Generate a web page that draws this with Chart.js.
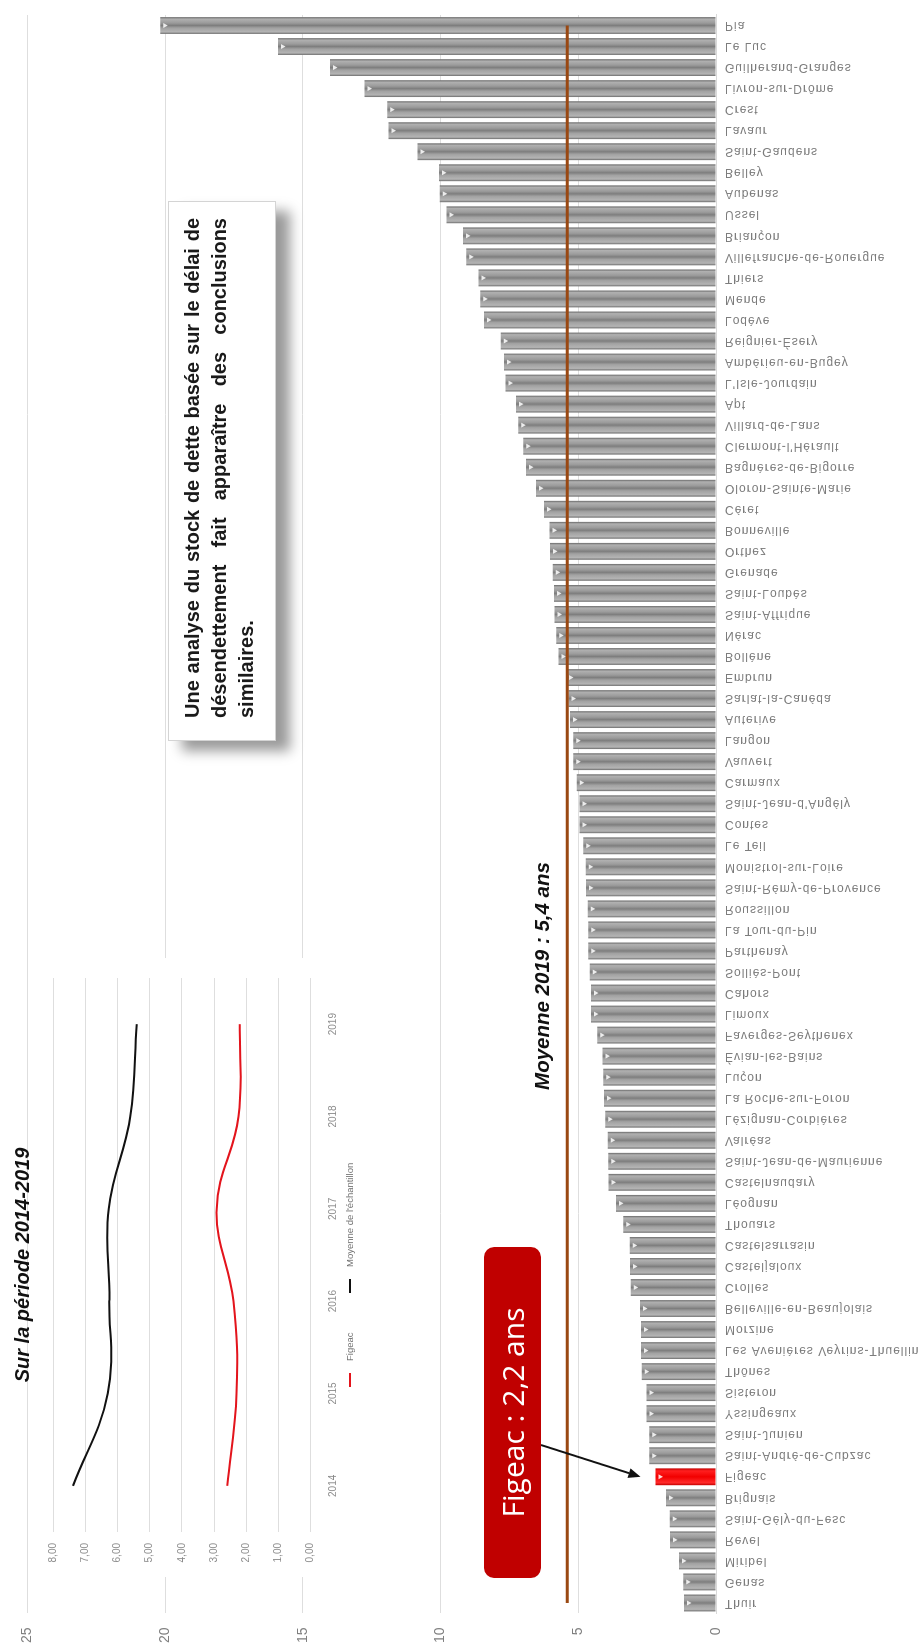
<!DOCTYPE html>
<html lang="fr">
<head>
<meta charset="utf-8">
<title>Délai de désendettement 2019</title>
<script src="https://cdn.jsdelivr.net/npm/chart.js@4.4.1/dist/chart.umd.min.js"></script>
<style>
  html, body { margin: 0; padding: 0; background: #fff; }
  body { width: 921px; height: 1651px; overflow: hidden; position: relative; }
  /* the slide is laid out in landscape and turned a quarter turn */
  #slide {
    position: absolute; left: 0; top: 0; width: 1651px; height: 921px;
    transform-origin: 0 0; transform: translateY(1651px) rotate(-90deg);
    font-family: 'Liberation Sans', Arial, sans-serif;
  }
  #mainChart { position: absolute; left: 0; top: 0; }
  #insetChart { position: absolute; left: 74px; top: 36px; }
  .titre, .moyenne {
    position: absolute; transform: translate(-50%, -50%);
    font: italic bold 20px 'Liberation Sans', Arial, sans-serif;
    white-space: nowrap; color: #111;
  }
  .titre { left: 386px; top: 22px; }
  .moyenne { left: 675px; top: 542px; font-size: 20.5px; }
  .callout {
    position: absolute; left: 73px; top: 484px; width: 331px; height: 57px;
    background: #c00000; border-radius: 10px; color: #fff;
    font: 30px 'Open Sans', 'Liberation Sans', Arial, sans-serif;
    display: flex; align-items: center; justify-content: center; white-space: nowrap;
  }
  .note {
    position: absolute; left: 910px; top: 168px; width: 540px; height: 108px;
    box-sizing: border-box; background: #fff; border: 1px solid #d4d4d4;
    box-shadow: -10px 14px 12px rgba(0,0,0,0.40);
    padding: 10px 16px 0 22px;
    font: bold 20px 'Liberation Sans', Arial, sans-serif; line-height: 27px; color: #1a1a1a;
  }
  .note .j { text-align: justify; text-align-last: justify; white-space: nowrap; }
  .note .l { text-align: left; }
</style>
</head>
<body>
<div id="slide">
  <canvas id="mainChart" width="1651" height="921"></canvas>
  <canvas id="insetChart" width="619" height="334"></canvas>
  <div class="titre">Sur la période 2014-2019</div>
  <div class="moyenne" id="moyenneLabel"></div>
  <div class="callout" id="figeacLabel"></div>
  <div class="note">
    <div class="j">Une analyse du stock de dette basée sur le délai de</div>
    <div class="j">désendettement fait apparaître des conclusions</div>
    <div class="l">similaires.</div>
  </div>
</div>
<script>
// Communes, in increasing order of debt-reduction delay (years), 2019
const categories = [
  'Thuir', 'Genas', 'Miribel', 'Revel', 'Saint-Gély-du-Fesc', 'Brignais', 'Figeac',
  'Saint-André-de-Cubzac', 'Saint-Junien', 'Yssingeaux', 'Sisteron', 'Thônes',
  'Les Avenières Veyrins-Thuellin', 'Morzine', 'Belleville-en-Beaujolais', 'Crolles',
  'Casteljaloux', 'Castelsarrasin', 'Thouars', 'Léognan', 'Castelnaudary',
  'Saint-Jean-de-Maurienne', 'Valréas', 'Lézignan-Corbières', 'La Roche-sur-Foron',
  'Luçon', 'Évian-les-Bains', 'Faverges-Seythenex', 'Limoux', 'Cahors', 'Solliès-Pont',
  'Parthenay', 'La Tour-du-Pin', 'Roussillon', 'Saint-Rémy-de-Provence',
  'Monistrol-sur-Loire', 'Le Teil', 'Contes', "Saint-Jean-d'Angély", 'Carmaux',
  'Vauvert', 'Langon', 'Auterive', 'Sarlat-la-Canéda', 'Embrun', 'Bollène', 'Nérac',
  'Saint-Affrique', 'Saint-Loubès', 'Grenade', 'Orthez', 'Bonneville', 'Céret',
  'Oloron-Sainte-Marie', 'Bagnères-de-Bigorre', "Clermont-l'Hérault", 'Villard-de-Lans',
  'Apt', "L'Isle-Jourdain", 'Ambérieu-en-Bugey', 'Reignier-Ésery', 'Lodève', 'Mende',
  'Thiers', 'Villefranche-de-Rouergue', 'Briançon', 'Ussel', 'Aubenas', 'Belley',
  'Saint-Gaudens', 'Lavaur', 'Crest', 'Livron-sur-Drôme', 'Guilherand-Granges',
  'Le Luc', 'Pia'
];
const delai2019 = [
  1.16, 1.19, 1.34, 1.67, 1.68, 1.82, 2.2,
  2.42, 2.42, 2.52, 2.52, 2.70,
  2.72, 2.72, 2.76, 3.10,
  3.12, 3.13, 3.37, 3.63, 3.90,
  3.91, 3.93, 4.02, 4.07,
  4.09, 4.12, 4.31, 4.54, 4.54, 4.58,
  4.64, 4.64, 4.66, 4.72,
  4.73, 4.82, 4.96, 4.96, 5.06,
  5.18, 5.18, 5.30, 5.36, 5.45, 5.72, 5.80,
  5.86, 5.88, 5.93, 6.03, 6.05, 6.25,
  6.54, 6.90, 7.00, 7.18,
  7.26, 7.64, 7.70, 7.82, 8.42, 8.56,
  8.62, 9.07, 9.19, 9.79, 10.03, 10.06,
  10.84, 11.89, 11.94, 12.76, 14.02,
  15.90, 20.18
];
const MOYENNE_2019 = 5.4;
const COMMUNE_MISE_EN_AVANT = 'Figeac';
const valueTicks = [0, 5, 10, 15, 20, 25];

// Evolution 2014-2019
const annees = ['2014', '2015', '2016', '2017', '2018', '2019'];
const serieFigeac = [2.59, 2.30, 2.40, 2.92, 2.24, 2.2];
const serieMoyenne = [7.38, 6.30, 6.25, 6.27, 5.60, 5.4];
const insetTicks = [0, 1, 2, 3, 4, 5, 6, 7, 8];

const frNum = (v, d) => v.toFixed(d).replace('.', ',');
const figeacIndex = categories.indexOf(COMMUNE_MISE_EN_AVANT);

document.getElementById('moyenneLabel').textContent = 'Moyenne 2019 : ' + frNum(MOYENNE_2019, 1) + ' ans';
document.getElementById('figeacLabel').textContent = COMMUNE_MISE_EN_AVANT + ' : ' + frNum(delai2019[figeacIndex], 1) + ' ans';

const FONT = "'Liberation Sans', Arial, sans-serif";
const BAR_PCT = 0.8;

// shaded "cylinder" fill across each bar
function barFill(ctx) {
  const chart = ctx.chart;
  const red = ctx.dataIndex === figeacIndex;
  if (ctx.type !== 'data' || !chart.chartArea) return red ? '#f00' : '#999';
  const xs = chart.scales.x;
  const cx = xs.getPixelForValue(ctx.dataIndex);
  const half = xs.width / categories.length * BAR_PCT / 2;
  const g = chart.ctx.createLinearGradient(cx - half, 0, cx + half, 0);
  if (red) {
    g.addColorStop(0, '#c40000');
    g.addColorStop(0.15, '#ff2a2a');
    g.addColorStop(0.5, '#f20000');
    g.addColorStop(0.85, '#ff1f1f');
    g.addColorStop(1, '#c00000');
  } else {
    g.addColorStop(0, '#6c6c6c');
    g.addColorStop(0.12, '#b4b4b4');
    g.addColorStop(0.35, '#a2a2a2');
    g.addColorStop(0.5, '#7e7e7e');
    g.addColorStop(0.65, '#9b9b9b');
    g.addColorStop(0.88, '#b0b0b0');
    g.addColorStop(1, '#686868');
  }
  return g;
}

// commune names under the baseline, drawn mirrored as on the slide
const categoryLabels = {
  id: 'categoryLabels',
  afterDraw(chart) {
    const { ctx, chartArea, scales: { x } } = chart;
    ctx.save();
    ctx.font = '12px ' + FONT;
    ctx.fillStyle = '#7c7c7c';
    if ('letterSpacing' in ctx) ctx.letterSpacing = '1px';
    ctx.textAlign = 'left';
    ctx.textBaseline = 'middle';
    categories.forEach((name, i) => {
      ctx.save();
      ctx.translate(x.getPixelForValue(i), chartArea.bottom + 9);
      ctx.rotate(Math.PI / 2);
      ctx.scale(1, -1);
      ctx.fillText(name, 0, 0);
      ctx.restore();
    });
    ctx.restore();
  }
};

// small light marker near the end of every bar
const barMarkers = {
  id: 'barMarkers',
  afterDatasetDraw(chart, args) {
    if (args.index !== 0) return;
    const { ctx } = chart;
    ctx.save();
    ctx.fillStyle = 'rgba(255,255,255,0.85)';
    args.meta.data.forEach(bar => {
      const y0 = bar.y + 3;
      ctx.beginPath();
      ctx.moveTo(bar.x - 2.5, y0);
      ctx.lineTo(bar.x + 2.5, y0);
      ctx.lineTo(bar.x, y0 + 4.5);
      ctx.closePath();
      ctx.fill();
    });
    ctx.restore();
  }
};

// arrow from the callout to the highlighted bar
const calloutArrow = {
  id: 'calloutArrow',
  afterDraw(chart) {
    const { ctx, scales: { x, y } } = chart;
    const tx = x.getPixelForValue(figeacIndex);
    const ty = y.getPixelForValue(delai2019[figeacIndex]) - 15;
    const sx = 206, sy = 541;
    const ang = Math.atan2(ty - sy, tx - sx);
    const len = 12, hw = 5;
    const bx = tx - len * Math.cos(ang), by = ty - len * Math.sin(ang);
    ctx.save();
    ctx.strokeStyle = '#111';
    ctx.fillStyle = '#111';
    ctx.lineWidth = 2;
    ctx.beginPath();
    ctx.moveTo(sx, sy);
    ctx.lineTo(bx, by);
    ctx.stroke();
    ctx.beginPath();
    ctx.moveTo(tx, ty);
    ctx.lineTo(bx + hw * Math.sin(ang), by - hw * Math.cos(ang));
    ctx.lineTo(bx - hw * Math.sin(ang), by + hw * Math.cos(ang));
    ctx.closePath();
    ctx.fill();
    ctx.restore();
  }
};

new Chart(document.getElementById('mainChart'), {
  data: {
    labels: categories,
    datasets: [
      {
        type: 'bar',
        label: 'Délai de désendettement 2019',
        data: delai2019,
        backgroundColor: barFill,
        borderWidth: 0,
        barPercentage: BAR_PCT,
        categoryPercentage: 1.0,
        order: 1
      },
      {
        type: 'line',
        label: 'Moyenne 2019',
        data: categories.map(() => MOYENNE_2019),
        borderColor: '#9a4812',
        borderWidth: 3,
        pointRadius: 0,
        fill: false,
        order: 0
      }
    ]
  },
  options: {
    responsive: false,
    animation: false,
    devicePixelRatio: 1,
    layout: { padding: { top: 27.5, right: 15, bottom: 0, left: 0 } },
    plugins: { legend: { display: false }, tooltip: { enabled: false } },
    scales: {
      x: {
        type: 'category',
        offset: true,
        grid: { display: false },
        border: { display: true, color: '#d9d9d9' },
        ticks: { display: false },
        afterFit(s) { s.height = 205; }
      },
      y: {
        min: 0, max: 25,
        afterBuildTicks(s) { s.ticks = valueTicks.map(v => ({ value: v })); },
        grid: { color: '#dedede', drawTicks: false, lineWidth: 1 },
        border: { display: false },
        ticks: { color: '#7f7f7f', font: { family: FONT, size: 14 }, padding: 14 },
        afterFit(s) { s.width = 37.5; }
      }
    }
  },
  plugins: [categoryLabels, barMarkers, calloutArrow]
});

// white panel behind the inset chart
const insetBackground = {
  id: 'insetBackground',
  beforeDraw(chart) {
    const { ctx, width, height } = chart;
    ctx.save();
    ctx.fillStyle = '#fff';
    ctx.fillRect(0, 0, width, height);
    ctx.restore();
  }
};

// legend row under the inset chart
const insetLegend = {
  id: 'insetLegend',
  afterDraw(chart) {
    const { ctx } = chart;
    const yMid = 314;
    const items = [
      { ds: chart.data.datasets[0], x: 190 },
      { ds: chart.data.datasets[1], x: 284 }
    ];
    ctx.save();
    ctx.font = '9.5px ' + FONT;
    ctx.fillStyle = '#707070';
    ctx.textBaseline = 'middle';
    items.forEach(({ ds, x }) => {
      ctx.strokeStyle = ds.borderColor;
      ctx.lineWidth = 2;
      ctx.beginPath();
      ctx.moveTo(x, yMid);
      ctx.lineTo(x + 14, yMid);
      ctx.stroke();
      ctx.fillText(ds.label, x + 26, yMid);
    });
    ctx.restore();
  }
};

new Chart(document.getElementById('insetChart'), {
  type: 'line',
  data: {
    labels: annees,
    datasets: [
      { label: 'Figeac', data: serieFigeac, borderColor: '#e3141c', borderWidth: 2, tension: 0.4, pointRadius: 0, fill: false },
      { label: "Moyenne de l'échantillon", data: serieMoyenne, borderColor: '#111111', borderWidth: 2, tension: 0.4, pointRadius: 0, fill: false }
    ]
  },
  options: {
    responsive: false,
    animation: false,
    devicePixelRatio: 1,
    layout: { padding: { top: 15.7, right: 20, bottom: 0, left: 0 } },
    plugins: { legend: { display: false }, tooltip: { enabled: false } },
    scales: {
      x: {
        offset: true,
        grid: { display: false },
        border: { display: false },
        ticks: { color: '#8c8c8c', font: { family: FONT, size: 10 }, padding: 9, maxRotation: 0 },
        afterFit(s) { s.height = 59.3; }
      },
      y: {
        min: 0, max: 8,
        afterBuildTicks(s) { s.ticks = insetTicks.map(v => ({ value: v })); },
        grid: { color: '#dedede', drawTicks: false },
        border: { display: false },
        ticks: { color: '#8c8c8c', font: { family: FONT, size: 10 }, padding: 11, callback: v => frNum(v, 2) },
        afterFit(s) { s.width = 45; }
      }
    }
  },
  plugins: [insetBackground, insetLegend]
});
</script>
</body>
</html>
